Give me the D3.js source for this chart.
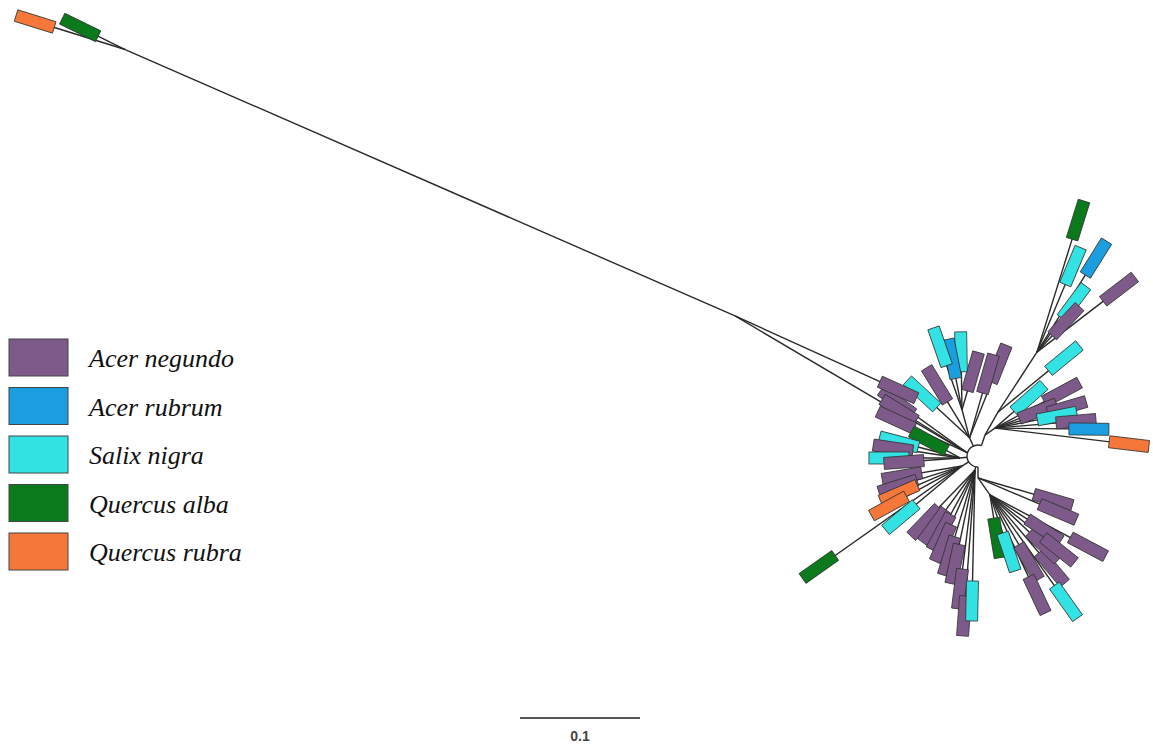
<!DOCTYPE html>
<html>
<head>
<meta charset="utf-8">
<script src="https://cdn.jsdelivr.net/npm/d3@7"></script>
<style>
  body { margin: 0; background: #fff; }
  .branch { stroke: #2a2a2a; stroke-width: 1.4; fill: none; }
  .tip { stroke: #333; stroke-width: 0.8; }
  .legend-box { stroke: #444; stroke-width: 1; }
  .legend-label { font-family: 'Liberation Serif', serif; font-style: italic; font-size: 26px; fill: #111; }
  .scale-label { font-family: 'Liberation Sans', Arial, sans-serif; font-weight: bold; font-size: 14px; fill: #444; }
</style>
</head>
<body>
<div id="box-div"></div>
<script>
// species + legend
const species = ['Acer negundo', 'Acer rubrum', 'Salix nigra', 'Quercus alba', 'Quercus rubra'];
const speciesColors = ['#7d5a8a', '#1a9ee0', '#33e2e2', '#0b7a1c', '#f5773a'];

// internal nodes: [id, parent, angle (deg, screen), branch length]
const internalNodes = [
    ['UR', 'root', -71.6, 0.0183],
    ['U0', 'UR', -60.5, 0.0220],
    ['U1', 'U0', -57.0, 0.0597],
    ['R0', 'UR', -35.0, 0.0102],
    ['M0', 'root', -115.0, 0.0167],
    ['M1', 'M0', -105.0, 0.0242],
    ['P0', 'root', -161.6, 0.0105],
    ['L1', 'P0', -149.5, 0.2234],
    ['O2', 'L1', -156.4, 0.5546],
    ['E0', 'root', 173.7, 0.0151],
    ['F0', 'root', 148.0, 0.0158],
    ['G0', 'root', 102.0, 0.0119],
    ['H0', 'root', 90.0, 0.0183],
    ['H1', 'H0', 54.8, 0.0173]
];

// tips: [parent, angle, branch length, species index]
const tips = [
    ['U1', -72.7, 0.1152, 3], ['U1', -67.3, 0.0777, 2], ['U1', -57.9, 0.0925, 1],
    ['U1', -53.5, 0.0518, 2], ['U1', -46.9, 0.0353, 0], ['U1', -37.5, 0.0862, 0],
    ['U0', -39.3, 0.0711, 2],
    ['R0', -41.4, 0.0378, 2], ['R0', -28.3, 0.0634, 0], ['R0', -21.6, 0.0385, 0],
    ['R0', -16.3, 0.0625, 0], ['R0', -11.0, 0.0527, 2], ['R0', -4.9, 0.0678, 0],
    ['R0', 0.6, 0.0783, 1], ['R0', 6.8, 0.1125, 4],
    ['M0', -68.3, 0.0664, 0], ['M0', -73.9, 0.0555, 0], ['M0', -121.5, 0.0518, 0], ['M0', -137.2, 0.0539, 2],
    ['M1', -73.9, 0.0330, 0], ['M1', -91.0, 0.0483, 2], ['M1', -101.1, 0.0433, 1], ['M1', -109.2, 0.0556, 2],
    ['P0', -144.1, 0.0710, 0], ['P0', -147.9, 0.0659, 0], ['P0', -155.4, 0.0642, 0],
    ['L1', 24.4, 0.1492, 0],
    ['O2', -153.9, 0.0418, 3], ['O2', -162.7, 0.0786, 4],
    ['E0', -151.3, 0.0295, 3], ['E0', -165.3, 0.0526, 2], ['E0', -171.5, 0.0564, 0],
    ['E0', 180.0, 0.0592, 2], ['E0', 175.9, 0.0468, 0],
    ['F0', 170.5, 0.0507, 0], ['F0', 162.6, 0.0559, 0], ['F0', 156.8, 0.0571, 4],
    ['F0', 151.3, 0.0693, 4], ['F0', 140.1, 0.0663, 2], ['F0', 144.8, 0.1459, 3],
    ['G0', 133.9, 0.0601, 0], ['G0', 126.2, 0.0578, 0], ['G0', 118.7, 0.0589, 0],
    ['G0', 113.7, 0.0664, 0], ['G0', 106.8, 0.0748, 0], ['G0', 102.0, 0.0801, 0],
    ['G0', 97.2, 0.0999, 0], ['G0', 94.3, 0.1220, 0], ['G0', 91.3, 0.1092, 2],
    ['H0', 16.3, 0.0652, 0], ['H0', 23.0, 0.0724, 0],
    ['H1', 80.8, 0.0363, 3], ['H1', 71.6, 0.0501, 2], ['H1', 59.8, 0.0646, 0],
    ['H1', 64.8, 0.0921, 0], ['H1', 49.7, 0.0798, 0], ['H1', 54.6, 0.1093, 2],
    ['H1', 43.4, 0.0619, 0], ['H1', 33.0, 0.0537, 0], ['H1', 38.6, 0.0735, 0],
    ['H1', 27.9, 0.0924, 0]
];

const scaleBarValue = 0.1;

let dms = {
    width: 1153,
    height: 748,
    rootX: 978,
    rootY: 456,
    unitPx: 120,   // pixels per 0.1
    hubR: 11,
    tipW: 40,
    tipH: 12
}

const box = d3.select('#box-div').append('svg')
    .attr('width', dms.width)
    .attr('height', dms.height)

const xScale = d3.scaleLinear().domain([0, 0.1]).range([dms.rootX, dms.rootX + dms.unitPx])
const yScale = d3.scaleLinear().domain([0, 0.1]).range([dms.rootY, dms.rootY + dms.unitPx])
const lenScale = d3.scaleLinear().domain([0, 0.1]).range([0, dms.unitPx])
const color = d3.scaleOrdinal().domain(d3.range(species.length)).range(speciesColors)

const rad = a => a * Math.PI / 180;

// lay out node positions in tree units
const pos = { root: { x: 0, y: 0 } };
const edges = [];
const hubUnits = lenScale.invert(dms.hubR);
const place = (parent, angle, len) => {
    const p = pos[parent];
    const node = { x: p.x + len * Math.cos(rad(angle)), y: p.y + len * Math.sin(rad(angle)), angle };
    const start = parent === 'root'
        ? { x: hubUnits * Math.cos(rad(angle)), y: hubUnits * Math.sin(rad(angle)) }
        : p;
    edges.push({ from: start, to: node });
    return node;
}
internalNodes.forEach(([id, parent, angle, len]) => { pos[id] = place(parent, angle, len) })
const tipNodes = tips.map(([parent, angle, len, sp]) => ({ ...place(parent, angle, len), sp }))

const tree = box.append('g').attr('id', 'tree')

// hub arc
const rootAngles = internalNodes.filter(d => d[1] === 'root').map(d => (d[2] + 360) % 360)
const hub = d3.path()
hub.arc(xScale(0), yScale(0), dms.hubR, rad(d3.min(rootAngles)), rad(d3.max(rootAngles)), false)
tree.append('path').attr('class', 'branch').attr('d', hub.toString())

tree.append('g').selectAll('line')
    .data(edges)
    .join('line')
    .attr('class', 'branch')
    .attr('x1', d => xScale(d.from.x))
    .attr('y1', d => yScale(d.from.y))
    .attr('x2', d => xScale(d.to.x))
    .attr('y2', d => yScale(d.to.y))

tree.append('g').selectAll('rect')
    .data(tipNodes)
    .join('rect')
    .attr('class', 'tip')
    .attr('x', -dms.tipW / 2)
    .attr('y', -dms.tipH / 2)
    .attr('width', dms.tipW)
    .attr('height', dms.tipH)
    .attr('fill', d => color(d.sp))
    .attr('transform', d => `translate(${xScale(d.x)},${yScale(d.y)}) rotate(${d.angle})`)

// legend
const legend = box.append('g').attr('id', 'legend')
const legendY = d3.scaleLinear().domain([0, species.length - 1]).range([339, 533])
const legendItems = legend.selectAll('g')
    .data(species)
    .join('g')
    .attr('transform', (d, i) => `translate(9, ${legendY(i)})`)
legendItems.append('rect')
    .attr('class', 'legend-box')
    .attr('width', 59)
    .attr('height', 37)
    .attr('fill', (d, i) => color(i))
legendItems.append('text')
    .attr('class', 'legend-label')
    .attr('x', 80)
    .attr('y', 28)
    .text(d => d)

// scale bar
const bar = box.append('g').attr('id', 'scale-bar').attr('transform', 'translate(520, 718)')
bar.append('line')
    .attr('x1', 0)
    .attr('x2', lenScale(scaleBarValue))
    .attr('stroke', '#555')
    .attr('stroke-width', 2)
bar.append('text')
    .attr('class', 'scale-label')
    .attr('x', lenScale(scaleBarValue) / 2)
    .attr('y', 23)
    .attr('text-anchor', 'middle')
    .text(scaleBarValue)
</script>
</body>
</html>
